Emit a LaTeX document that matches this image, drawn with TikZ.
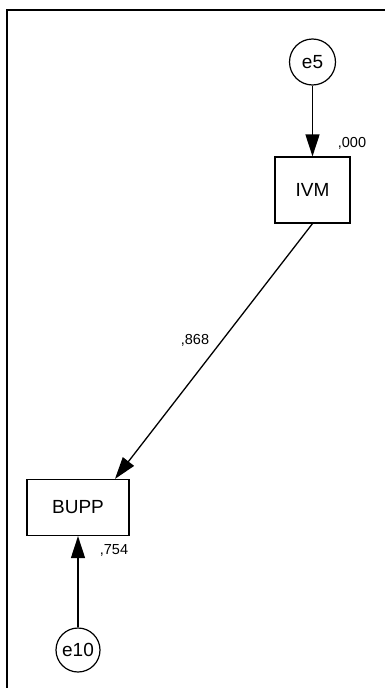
\documentclass[tikz,border=0pt]{standalone}
\usepackage{fontspec}
\setmainfont{Liberation Sans}
\usetikzlibrary{arrows.meta}
\begin{document}
\begin{tikzpicture}[x=1pt,y=-1pt,
  var/.style={draw, line width=1.2pt, minimum width=75pt, minimum height=66pt, inner sep=0pt, font=\fontsize{19}{21}\selectfont},
  err/.style={draw, circle, line width=1.2pt, minimum size=46pt, inner sep=0pt, font=\fontsize{19}{21}\selectfont},
  lab/.style={inner sep=0pt, font=\fontsize{14.5}{16}\selectfont},
  pth/.style={line width=1.3pt, -{Triangle[length=22pt,width=14pt]}}]
\useasboundingbox (0,0) rectangle (385,688);
\draw[line width=2pt] (7,688) -- (7,10) -- (385,10);
\node[err] (e5) at (312.5,62) {e5};
\node[var] (IVM) at (312.5,190) {IVM};
\node[var, minimum width=102pt, minimum height=56pt] (BUPP) at (78,507.5) {BUPP};
\node[err, minimum size=44pt] (e10) at (78,650) {e10};
\draw[pth] (e5) -- (IVM);
\draw[pth] (e10) -- (BUPP);
\draw[pth] (IVM.south) -- ([xshift=37pt]BUPP.north);
\node[lab] (l1) at (352,143) {,000};
\node[lab] (l2) at (114,550) {,754};
\node[lab] (l3) at (195,340) {,868};
\end{tikzpicture}
\end{document}
